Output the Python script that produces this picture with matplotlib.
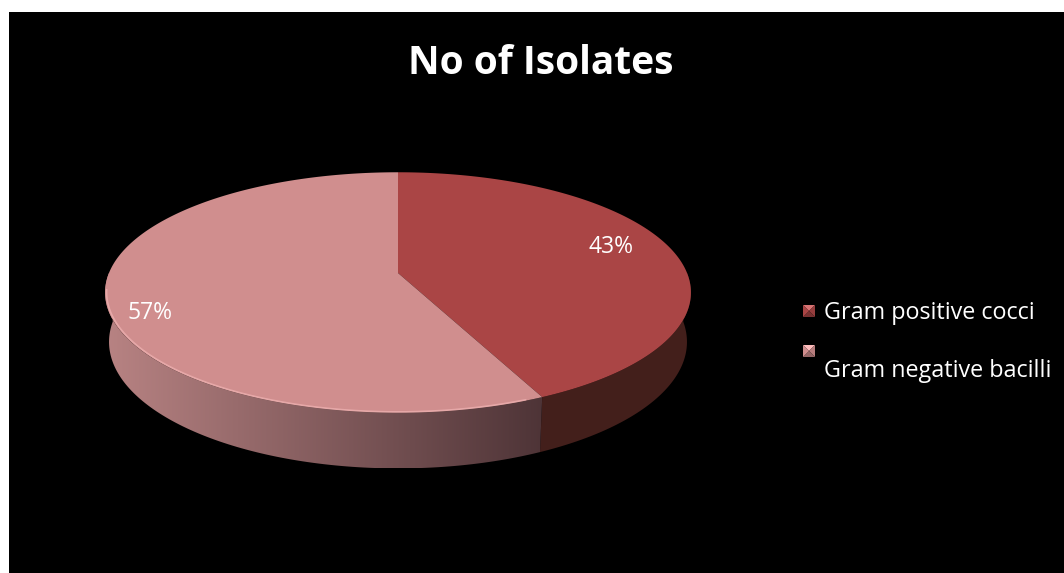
import numpy as np
import matplotlib.pyplot as plt
from matplotlib.patches import Polygon, Rectangle
from matplotlib.colors import to_rgb

# data
categories = ['Gram positive cocci', 'Gram negative bacilli']
shares = [43, 57]
pct_labels = ['43%', '57%']
title = 'No of Isolates'

top_colors = ['#AA4545', '#D08E8E']
side_colors = ['#431F1B', None]           # None -> shaded gradient
side_grad = ['#B88383', '#4E3437']

# perspective pie setup (screen pixels)
CX, CY = 398, 273
F = 1636.0
D = 5.66
COS_A, SIN_A = 0.917, 0.405
H = 0.186

plt.rcParams['font.family'] = ['Open Sans', 'DejaVu Sans']

W, Hpx = 1064, 573
fig = plt.figure(figsize=(W / 100, Hpx / 100), dpi=100)
fig.patch.set_facecolor('white')
ax = fig.add_axes([0, 0, 1, 1])
ax.set_xlim(0, W)
ax.set_ylim(Hpx, 0)
ax.axis('off')

ax.add_patch(Rectangle((9, 12), W, Hpx, facecolor='black', edgecolor='none', zorder=0))


def project(theta_deg, y=0.0, r=1.0):
    t = np.radians(theta_deg)
    X = r * np.sin(t)
    Z = r * np.cos(t)
    depth = D + Z * COS_A - y * SIN_A
    sx = CX + F * X / depth
    sy = CY - F * (Z * SIN_A + y * COS_A) / depth
    return sx, sy


bounds = np.concatenate([[0], np.cumsum(shares) / sum(shares) * 360.0])

# side walls (front half only)
for i in range(len(shares)):
    a0, a1 = max(bounds[i], 90), min(bounds[i + 1], 270)
    if a1 <= a0:
        continue
    th = np.linspace(a0, a1, 120)
    tx, ty = project(th)
    bx, by = project(th, y=-H)
    pts = np.column_stack([np.r_[tx, bx[::-1]], np.r_[ty, by[::-1]]])
    if side_colors[i] is not None:
        ax.add_patch(Polygon(pts, closed=True, facecolor=side_colors[i],
                             edgecolor='none', zorder=2))
    else:
        poly = Polygon(pts, closed=True, facecolor='none', edgecolor='none', zorder=2)
        ax.add_patch(poly)
        x0, x1 = pts[:, 0].min(), pts[:, 0].max()
        y0, y1 = pts[:, 1].min(), pts[:, 1].max()
        c0, c1 = np.array(to_rgb(side_grad[0])), np.array(to_rgb(side_grad[1]))
        f = np.linspace(0, 1, 256)[:, None]
        grad = (c0 * (1 - f) + c1 * f)[None, :, :]
        im = ax.imshow(grad, extent=(x0, x1, y1, y0), aspect='auto',
                       interpolation='bilinear', zorder=2)
        im.set_clip_path(poly)

# top faces
for i in range(len(shares)):
    th = np.linspace(bounds[i], bounds[i + 1], 200)
    tx, ty = project(th)
    pts = np.column_stack([np.r_[CX, tx], np.r_[CY, ty]])
    ax.add_patch(Polygon(pts, closed=True, facecolor=top_colors[i],
                         edgecolor='none', zorder=3))

# soft light rim along the front edge
th = np.linspace(bounds[1] + 3, 262, 150)
rx, ry = project(th, r=0.995)
ax.plot(rx, ry, color='#F0B4B4', lw=1.2, alpha=0.7, zorder=4,
        solid_capstyle='round')

ax.set_xlim(0, W)
ax.set_ylim(Hpx, 0)

# percentage labels
label_pos = [(611, 247), (150, 313)]
for (lx, ly), txt in zip(label_pos, pct_labels):
    ax.text(lx, ly, txt, color='white', fontsize=16.5, ha='center', va='center', zorder=5)

ax.text(541, 63, title, color='white', fontsize=28, fontweight='bold',
        ha='center', va='center', zorder=5)


# legend with bevelled swatches
def swatch(x, y, color, s=12):
    base = np.array(to_rgb(color))
    light = np.clip(base + 0.18, 0, 1)
    dark = base * 0.72
    mid = base * 0.88
    c = (x + s / 2, y + s / 2)
    tl, tr, br, bl = (x, y), (x + s, y), (x + s, y + s), (x, y + s)
    for tri, col in [((tl, tr, c), light), ((tr, br, c), mid),
                     ((br, bl, c), dark), ((bl, tl, c), base)]:
        ax.add_patch(Polygon(tri, closed=True, facecolor=col, edgecolor='none', zorder=5))


legend_rows = [(305, 313), (345, 371)]
for (sy, ty), name, col in zip(legend_rows, categories, top_colors):
    swatch(803, sy, col)
    ax.text(824, ty, name, color='white', fontsize=16.8, ha='left', va='center', zorder=5)

fig.savefig('out.png', dpi=100, facecolor=fig.get_facecolor())
